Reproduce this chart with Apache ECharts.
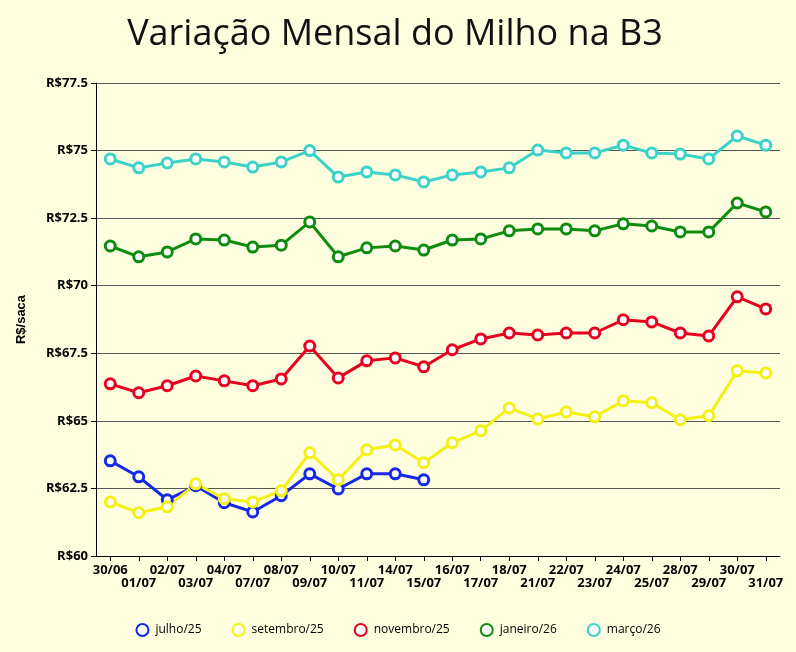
<!DOCTYPE html><html><head><meta charset="utf-8">
<script src="https://cdn.jsdelivr.net/npm/echarts@6/dist/echarts.min.js"></script>
<style>html,body{margin:0;background:#ffffe0}#c{width:796px;height:652px}</style></head><body><div id="c"></div>
<script>
const categories=["30/06","01/07","02/07","03/07","04/07","07/07","08/07","09/07","10/07","11/07","14/07","15/07","16/07","17/07","18/07","21/07","22/07","23/07","24/07","25/07","28/07","29/07","30/07","31/07"];
const julho=[63.52,62.93,62.08,62.6,61.97,61.63,62.23,63.04,62.48,63.04,63.04,62.82];
const setembro=[62.0,61.6,61.82,62.67,62.12,62.0,62.41,63.82,62.82,63.93,64.11,63.45,64.19,64.63,65.48,65.07,65.33,65.15,65.74,65.67,65.04,65.19,66.85,66.77];
const novembro=[66.37,66.04,66.3,66.66,66.48,66.3,66.55,67.77,66.59,67.22,67.33,67.0,67.63,68.03,68.25,68.18,68.25,68.25,68.74,68.66,68.25,68.14,69.59,69.14];
const janeiro=[71.47,71.07,71.25,71.73,71.69,71.43,71.5,72.36,71.07,71.4,71.47,71.32,71.69,71.73,72.03,72.1,72.1,72.03,72.29,72.21,71.99,71.99,73.06,72.73];
const marco=[74.69,74.36,74.54,74.69,74.58,74.39,74.58,75.0,74.02,74.21,74.1,73.84,74.1,74.21,74.36,75.02,74.91,74.91,75.2,74.91,74.87,74.69,75.54,75.2];
const names=["julho/25","setembro/25","novembro/25","janeiro/26","março/26"];
const colors=["#1428e6","#f5f014","#e6001e","#0f8c0f","#3cd2c8"];
const data=[julho,setembro,novembro,janeiro,marco];
const fmt=v=>"R$"+(v%1===0?v:v.toFixed(1));
echarts.init(document.getElementById('c')).setOption({
 backgroundColor:'#ffffe0',
 title:{text:'Variação Mensal do Milho na B3',left:390,top:12,textAlign:'center',textStyle:{fontSize:36,fontWeight:'normal',color:'#111',fontFamily:'Open Sans'}},
 legend:{bottom:10,itemWidth:16,itemHeight:12,itemGap:30,textStyle:{fontSize:12,fontFamily:'Open Sans',color:'#000'},icon:'circle'},
 grid:{left:96,right:16,top:83,bottom:96},
 xAxis:{type:'category',data:categories,axisTick:{show:true,alignWithLabel:true,length:5},axisLine:{lineStyle:{color:'#000'}},
   axisLabel:{interval:0,color:'#000',fontWeight:'bold',fontSize:13,fontFamily:'Open Sans',formatter:(v,i)=>i%2?'\n'+v:v}},
 yAxis:{type:'value',min:60,max:77.5,interval:2.5,name:'R$/saca',nameLocation:'middle',nameGap:68,nameTextStyle:{fontWeight:'bold',fontSize:13,color:'#000'},
   axisLine:{show:true,lineStyle:{color:'#000'}},axisTick:{show:true},splitLine:{lineStyle:{color:'#555'}},
   axisLabel:{formatter:fmt,color:'#000',fontWeight:'bold',fontSize:13,fontFamily:'Open Sans'}},
 series:data.map((d,i)=>({name:names[i],type:'line',data:d,color:colors[i],symbol:'circle',symbolSize:10,
   lineStyle:{width:3,color:colors[i]},itemStyle:{color:'#fff',borderColor:colors[i],borderWidth:3}}))
});
</script></body></html>
